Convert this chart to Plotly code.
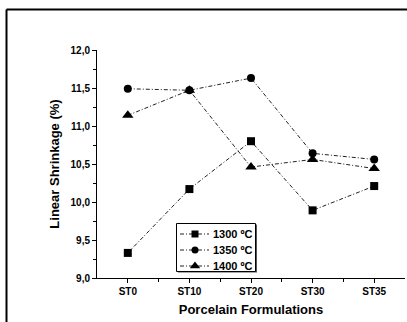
import plotly.graph_objects as go

categories = ["ST0", "ST10", "ST20", "ST30", "ST35"]
s1300 = [9.33, 10.17, 10.80, 9.89, 10.21]
s1350 = [11.49, 11.47, 11.63, 10.64, 10.56]
s1400 = [11.14, 11.47, 10.46, 10.56, 10.44]
series_names = ["1300 ºC", "1350 ºC", "1400 ºC"]
symbols = ["square", "circle", "triangle-up"]
msizes = [8, 8, 10]
ytick_vals = [9.0, 9.5, 10.0, 10.5, 11.0, 11.5, 12.0]
ytick_text = ["9,0", "9,5", "10,0", "10,5", "11,0", "11,5", "12,0"]

FAM = "Liberation Sans, Arial, sans-serif"
DASH = "4px,2px,1px,2px"
LCOL = "#222222"

# plot area in page pixels
PL, PR, PT, PB = 97, 405, 50, 278
def px(X):
    return (X - PL) / (PR - PL)
def py(Y):
    return (PB - Y) / (PB - PT)

xpos = list(range(len(categories)))
fig = go.Figure()
for name, vals, sym, ms in zip(series_names, [s1300, s1350, s1400], symbols, msizes):
    fig.add_trace(go.Scatter(
        x=xpos, y=vals, name=name, mode="lines+markers",
        line=dict(color=LCOL, width=1, dash=DASH),
        marker=dict(symbol=sym, size=ms, color="black"),
        showlegend=False,
    ))

# custom legend
rows = [234, 250, 266]
shapes = [
    dict(type="line", xref="paper", yref="paper", x0=px(6.5), x1=1.1, y0=py(9.5), y1=py(9.5),
         line=dict(color="black", width=2)),
    dict(type="line", xref="paper", yref="paper", x0=px(6.5), x1=px(6.5), y0=py(9.5), y1=-0.3,
         line=dict(color="black", width=2)),
    dict(type="rect", xref="paper", yref="paper", x0=px(178), x1=px(257), y0=py(272.5), y1=py(224.5),
         line=dict(width=0), fillcolor="#555555", layer="below"),
    dict(type="rect", xref="paper", yref="paper", x0=px(176.5), x1=px(255.5), y0=py(271.5), y1=py(223.5),
         line=dict(color="black", width=1), fillcolor="white", layer="below"),
]
annotations = []
for name, sym, ms, ry in zip(series_names, symbols, msizes, rows):
    fig.add_trace(go.Scatter(
        x=[px(180), px(209)], y=[py(ry), py(ry)], xaxis="x2", yaxis="y2", mode="lines",
        line=dict(color=LCOL, width=1, dash=DASH), showlegend=False, hoverinfo="skip"))
    fig.add_trace(go.Scatter(
        x=[px(195)], y=[py(ry)], xaxis="x2", yaxis="y2", mode="markers",
        marker=dict(symbol=sym, size=ms - 1, color="black"), showlegend=False, hoverinfo="skip"))
    annotations.append(dict(text=name, xref="paper", yref="paper", x=px(211), y=py(ry),
                            xanchor="left", yanchor="middle", showarrow=False,
                            font=dict(family=FAM, size=11, color="black", weight="bold")))

font = dict(family=FAM, size=10, color="black", weight="bold")
fig.update_layout(
    width=407, height=322,
    margin=dict(l=97, r=2, t=50, b=44),
    paper_bgcolor="white", plot_bgcolor="white",
    font=font,
    showlegend=False,
    xaxis=dict(range=[-0.5, 4.5], tickvals=xpos, ticktext=categories,
               showgrid=False, zeroline=False, showline=True, linecolor="black", linewidth=1,
               ticks="outside", ticklen=4, tickcolor="black",
               minor=dict(tickvals=[0.5, 1.5, 2.5, 3.5], ticks="outside", ticklen=3, tickcolor="black"),
               title=dict(text="Porcelain Formulations", standoff=8,
                          font=dict(family=FAM, size=13, weight="bold"))),
    yaxis=dict(range=[9.0, 12.0], tickvals=ytick_vals, ticktext=ytick_text,
               showgrid=False, zeroline=False, showline=True, linecolor="black", linewidth=1,
               ticks="outside", ticklen=4, tickcolor="black",
               minor=dict(dtick=0.25, tick0=9.0, ticks="outside", ticklen=3, tickcolor="black"),
               title=dict(text="Linear Shrinkage (%)", standoff=7,
                          font=dict(family=FAM, size=13, weight="bold"))),
    xaxis2=dict(overlaying="x", range=[0, 1], visible=False),
    yaxis2=dict(overlaying="y", range=[0, 1], visible=False),
    shapes=shapes,
    annotations=annotations,
)
fig.write_html("out.html", config={"displayModeBar": False},
               post_script="document.body.style.margin='0';")
